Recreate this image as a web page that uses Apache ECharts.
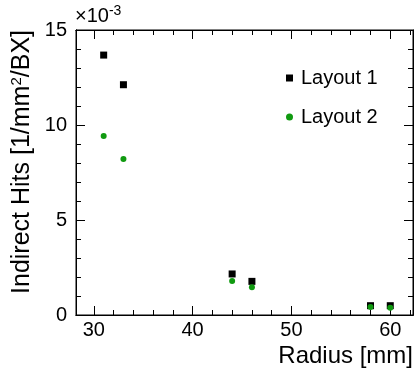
<!DOCTYPE html>
<html><head><meta charset="utf-8">
<script src="https://cdn.jsdelivr.net/npm/echarts@6/dist/echarts.min.js"></script>
<style>html,body{margin:0;padding:0;background:#fff}#c{width:419px;height:369px}</style>
</head><body><div id="c"></div>
<script>
const radius = [31, 33, 44, 46, 58, 60];
const layout1 = [13.68, 12.12, 2.16, 1.77, 0.49, 0.49];
const layout2 = [9.42, 8.21, 1.79, 1.46, 0.42, 0.38];
const seriesNames = ['Layout 1', 'Layout 2'];
const xMinorTicks = [30,32,34,36,38,40,42,44,46,48,50,52,54,56,58,60,62];
const xMajorTicks = [30, 40, 50, 60];
const yMajorTicks = [0, 5, 10, 15];

const FONT = 'Liberation Sans, Arial, Helvetica, sans-serif';
const XMIN = 28.2, XMAX = 62.3;
const chart = echarts.init(document.getElementById('c'), null, {renderer: 'canvas'});

function xAx(pos, ticks, len, labels) {
  return {
    type: 'value', min: XMIN, max: XMAX, position: pos,
    axisLine: {show: true, onZero: false, lineStyle: {color: '#000', width: 1}},
    axisTick: {show: true, inside: true, length: len, customValues: ticks, lineStyle: {color: '#000', width: 1}},
    axisLabel: labels ? {show: true, customValues: xMajorTicks, color: '#000', fontSize: 20, fontFamily: FONT, margin: 5} : {show: false},
    splitLine: {show: false}
  };
}
function yAx(pos, interval, len, labels) {
  return {
    type: 'value', min: 0, max: 15, interval: interval, position: pos,
    axisLine: {show: true, onZero: false, lineStyle: {color: '#000', width: 1}},
    axisTick: {show: true, inside: true, length: len, lineStyle: {color: '#000', width: 1}},
    axisLabel: labels ? {show: true, color: '#000', fontSize: 20, fontFamily: FONT, margin: 9,
      formatter: v => (yMajorTicks.indexOf(v) >= 0 ? String(v) : '')} : {show: false},
    splitLine: {show: false}
  };
}

chart.setOption({
  animation: false,
  backgroundColor: '#fff',
  grid: {left: 76, top: 30, right: 6, bottom: 54, show: true, borderColor: '#000', borderWidth: 1, backgroundColor: 'transparent'},
  xAxis: [
    xAx('bottom', xMinorTicks, 5, true),
    xAx('bottom', xMajorTicks, 9, false),
    xAx('top', xMinorTicks, 5, false),
    xAx('top', xMajorTicks, 9, false)
  ],
  yAxis: [
    yAx('left', 1, 5, true),
    yAx('left', 5, 9, false),
    yAx('right', 1, 5, false),
    yAx('right', 5, 9, false)
  ],
  legend: {
    orient: 'vertical', left: 281, top: 63, itemGap: 19,
    itemWidth: 7, itemHeight: 7,
    textStyle: {fontSize: 20, fontFamily: FONT, color: '#000', padding: [0, 0, 0, 3], lineHeight: 20},
    data: [{name: seriesNames[0], icon: 'rect'}, {name: seriesNames[1], icon: 'circle'}]
  },
  series: [
    {name: seriesNames[0], type: 'scatter', symbol: 'rect', symbolSize: 7, xAxisIndex: 0, yAxisIndex: 0,
      itemStyle: {color: '#000', opacity: 1}, data: radius.map((r, i) => [r, layout1[i]])},
    {name: seriesNames[1], type: 'scatter', symbol: 'circle', symbolSize: 6, xAxisIndex: 0, yAxisIndex: 0,
      itemStyle: {color: '#109a10', opacity: 1}, data: radius.map((r, i) => [r, layout2[i]])}
  ],
  graphic: [
    {type: 'text', x: 22, y: 30, rotation: Math.PI / 2,
      style: {text: 'Indirect Hits [1/mm{sup|2}/BX]', fill: '#000', font: '25px ' + FONT, align: 'right', verticalAlign: 'middle',
        rich: {sup: {fontSize: 15, fontFamily: FONT, verticalAlign: 'top', padding: [0, 0, 10, 0]}}}},
    {type: 'text', x: 413, y: 356,
      style: {text: 'Radius [mm]', fill: '#000', font: '24px ' + FONT, align: 'right', verticalAlign: 'middle'}},
    {type: 'text', x: 75, y: 16,
      style: {text: '\u00d710{sup|-3}', fill: '#000', font: '20px ' + FONT, align: 'left', verticalAlign: 'middle',
        rich: {sup: {fontSize: 14, fontFamily: FONT, padding: [0, 0, 10, 0]}}}}
  ]
});
</script></body></html>
